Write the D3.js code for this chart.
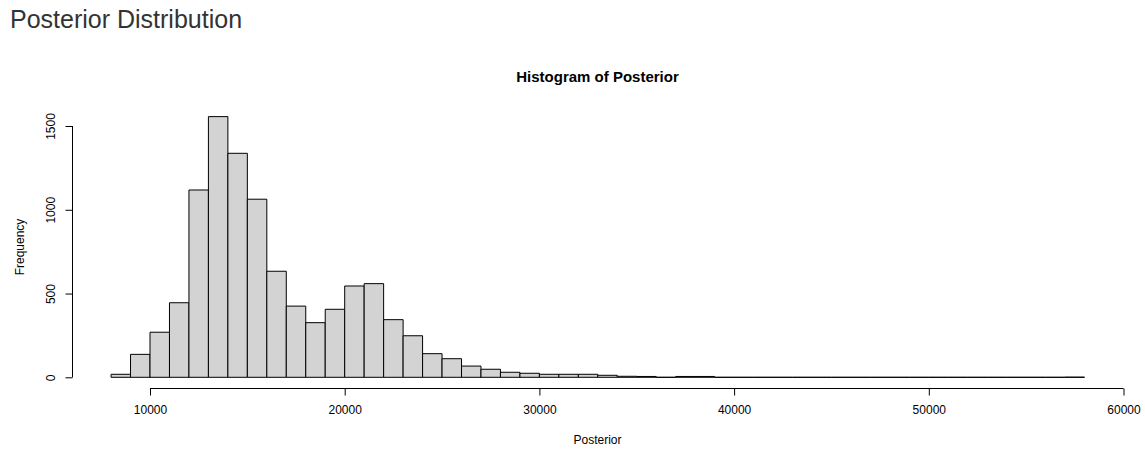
<!DOCTYPE html>
<html>
<head>
<meta charset="utf-8">
<script src="https://cdn.jsdelivr.net/npm/d3@7"></script>
<style>
  body { margin: 0; background: #fff; font-family: "Liberation Sans", Arial, sans-serif; }
  h3 { position: absolute; left: 10px; top: 5px; margin: 0; font-family: "Liberation Sans", Arial, sans-serif;
       font-weight: normal; font-size: 25px; color: #333; }
  svg { position: absolute; left: 0; top: 0; }
</style>
</head>
<body>
<h3>Posterior Distribution</h3>
<div id="chart"></div>
<script>
// Histogram data: bins of width 1000 starting at 8000
const binWidth = 1000;
const firstBreak = 8000;
const counts = [18, 137, 269, 445, 1118, 1556, 1337, 1063, 633, 425,
                326, 406, 545, 559, 344, 248, 141, 111, 67, 48,
                30, 24, 18, 18, 18, 12, 6, 5, 0, 5,
                5, 0, 0, 0, 0, 0, 0, 0, 0, 0,
                0, 0, 0, 0, 0, 0, 0, 0, 0, 1];
const xTicks = [10000, 20000, 30000, 40000, 50000, 60000];
const yTicks = [0, 500, 1000, 1500];

const bins = counts.map((c, i) => ({
  x0: firstBreak + i * binWidth,
  x1: firstBreak + (i + 1) * binWidth,
  count: c
}));

const width = 1145, height = 450;
const svg = d3.select('#chart').append('svg')
  .attr('width', width)
  .attr('height', height);

const x = d3.scaleLinear().domain([10000, 60000]).range([150, 1123.5]);
const y = d3.scaleLinear().domain([0, 1500]).range([377.3, 126]);

// bars as paths so empty bins still show as a line
svg.append('g')
  .selectAll('path')
  .data(bins)
  .enter()
  .append('path')
  .attr('d', d => `M${x(d.x0)},${y(0)}H${x(d.x1)}V${y(d.count)}H${x(d.x0)}Z`)
  .attr('fill', '#d3d3d3')
  .attr('stroke', '#000')
  .attr('stroke-width', 1);

// x axis
const xAxis = d3.axisBottom(x).tickValues(xTicks).tickSize(7).tickPadding(10).tickFormat(d => d);
svg.append('g')
  .attr('transform', 'translate(0,388.5)')
  .call(xAxis)
  .call(g => g.select('.domain').attr('d', `M${x(10000)},0H${x(60000)}`))
  .call(g => g.selectAll('text').attr('font-size', 12).attr('font-family', 'Liberation Sans, Arial').attr('fill', '#000'));

// y axis, labels rotated like base R
const yAxis = d3.axisLeft(y).tickValues(yTicks).tickSize(7).tickFormat(d => d);
svg.append('g')
  .attr('transform', 'translate(72.5,0)')
  .call(yAxis)
  .call(g => g.select('.domain').attr('d', `M0,${y(0)}V${y(1500)}`))
  .call(g => g.selectAll('text')
    .attr('font-size', 12).attr('font-family', 'Liberation Sans, Arial').attr('fill', '#000')
    .attr('transform', 'rotate(-90)')
    .attr('x', 0).attr('y', -18)
    .attr('dy', 0)
    .attr('text-anchor', 'middle'));

// titles
svg.append('text')
  .attr('x', 597.5).attr('y', 82)
  .attr('text-anchor', 'middle')
  .attr('font-weight', 'bold')
  .attr('font-size', 15)
  .attr('font-family', 'Liberation Sans, Arial')
  .text('Histogram of Posterior');

svg.append('text')
  .attr('x', 597.5).attr('y', 444)
  .attr('text-anchor', 'middle')
  .attr('font-size', 12)
  .attr('font-family', 'Liberation Sans, Arial')
  .text('Posterior');

svg.append('text')
  .attr('transform', 'translate(24,247) rotate(-90)')
  .attr('text-anchor', 'middle')
  .attr('font-size', 12)
  .attr('font-family', 'Liberation Sans, Arial')
  .text('Frequency');
</script>
</body>
</html>
